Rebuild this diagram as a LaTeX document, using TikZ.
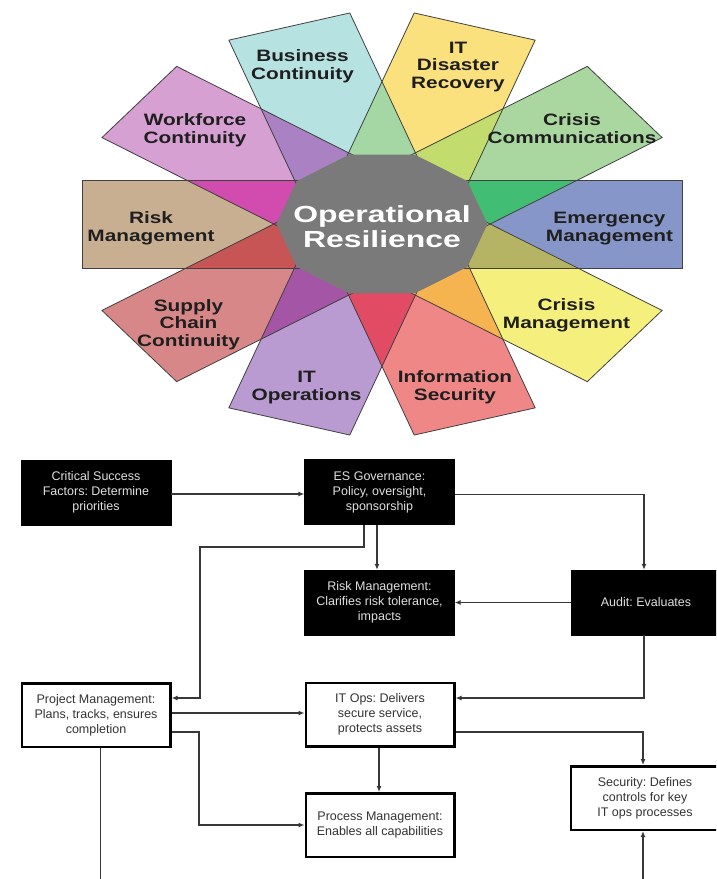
\documentclass[tikz,border=0pt]{standalone}
\usepackage{fontspec}
\setmainfont{Liberation Sans}
\newfontfamily\petalfont[FakeStretch=1.26]{Liberation Sans}
\newfontfamily\centerfont[FakeStretch=1.37]{Liberation Sans}
\usetikzlibrary{arrows.meta,calc}
\frenchspacing
\definecolor{cBC}{HTML}{B7E2E2}
\definecolor{cDR}{HTML}{FAE17D}
\definecolor{cCC}{HTML}{AAD7A0}
\definecolor{cEM}{HTML}{8796C8}
\definecolor{cCM}{HTML}{F5F07D}
\definecolor{cIS}{HTML}{F08787}
\definecolor{cIO}{HTML}{B99BD2}
\definecolor{cSC}{HTML}{D78787}
\definecolor{cRM}{HTML}{C8AF91}
\definecolor{cWF}{HTML}{D7A0D2}
\definecolor{oA}{HTML}{41BE73}
\definecolor{oB}{HTML}{C3DC6E}
\definecolor{oC}{HTML}{A5D7A5}
\definecolor{oD}{HTML}{AA82C3}
\definecolor{oE}{HTML}{D24BAF}
\definecolor{oF}{HTML}{C85555}
\definecolor{oG}{HTML}{A555A5}
\definecolor{oH}{HTML}{E14B64}
\definecolor{oI}{HTML}{F5B450}
\definecolor{oJ}{HTML}{B4B464}
\definecolor{decagray}{HTML}{7A7A7A}
\begin{document}
\begin{tikzpicture}[x=1pt,y=1pt,
  petal/.style={draw=black!75, line width=0.8pt},
  plabel/.style={font=\frenchspacing\petalfont\bfseries\fontsize{16.5}{17.5}\selectfont, text=black!88,
     align=center, inner sep=0pt, text height=12pt, text depth=3.5pt},
  clabel/.style={font=\centerfont\bfseries\fontsize{23.3}{25}\selectfont, text=white,
     align=center, inner sep=0pt, text height=17pt, text depth=0pt},
  blackbox/.style={fill=black, draw=black, minimum width=150pt, minimum height=65pt,
     inner sep=0pt, text=black!12, align=center, font=\frenchspacing\fontsize{12.5}{15}\selectfont},
  whitebox/.style={fill=white, draw=black, line width=2.5pt, minimum width=148.5pt,
     minimum height=63.5pt, inner sep=0pt, text=black!80, align=center,
     font=\frenchspacing\fontsize{12.5}{15}\selectfont},
  conn/.style={draw=black!78, line width=1.3pt},
  arr/.style={conn, -{Latex[length=6pt,width=5pt]}},
]
\useasboundingbox (0,0) rectangle (716,-879);
\fill[white] (0,0) rectangle (716,-879);
\clip (0,0) rectangle (716,-879);

% ---------- flower ----------
\begin{scope}[shift={(382,-224)}, xscale=1.445]
  \foreach \a/\c in {0/cEM,36/cCC,72/cDR,108/cBC,144/cWF,180/cRM,216/cSC,252/cIO,288/cIS,324/cCM}
    \fill[\c, rotate=\a] (0,-44) rectangle (207.6,44);
  \foreach \a/\c in {0/oA,36/oB,72/oC,108/oD,144/oE,180/oF,216/oG,252/oH,288/oI,324/oJ}{
    \begin{scope}
      \clip[rotate=\a] (0,-44) rectangle (207.6,44);
      \fill[\c, rotate=\a+36] (0,-44) rectangle (207.6,44);
    \end{scope}}
  \foreach \a in {0,36,...,324}
    \draw[petal, rotate=\a] (0,-44) rectangle (207.6,44);
  \fill[decagray] (0:73) -- (36:73) -- (72:73) -- (108:73) -- (144:73) -- (180:73)
     -- (216:73) -- (252:73) -- (288:73) -- (324:73) -- cycle;
\end{scope}

% (multi-line nodes: the last line's baseline sits 4.25pt below the node centre)
\node[clabel] (center) at (382,-238.5) {Operational\\Resilience};
\node[plabel] (lbc) at (302.5,-75) {Business\\Continuity};
\node[plabel] (lwf) at (195,-139.2) {Workforce\\Continuity};
\node[plabel] (ldr) at (458,-84) {IT\\Disaster\\Recovery};
\node[plabel] (lcc) at (572,-139) {Crisis\\Communications};
\node[plabel] (lem) at (609.5,-236.8) {Emergency\\Management};
\node[plabel] (lrm) at (151,-236.8) {Risk\\Management};
\node[plabel] (lcm) at (566.5,-324.2) {Crisis\\Management};
\node[plabel] (lis) at (455,-396.2) {Information\\Security};
\node[plabel] (lio) at (306.5,-396.2) {IT\\Operations};
\node[plabel] (lsc) at (188.5,-341.8) {Supply\\Chain\\Continuity};

% ---------- flowchart ----------
\node[blackbox] (csf) at (96,-492.5) {Critical Success\\Factors: Determine\\priorities};
\node[blackbox] (esg) at (379.5,-492) {ES Governance:\\Policy, oversight,\\sponsorship};
\node[blackbox] (risk) at (379.5,-602.5) {Risk Management:\\Clarifies risk tolerance,\\impacts};
\node[blackbox] (audit) at (646,-602.5) {Audit: Evaluates};
\node[whitebox] (pm) at (96,-715) {Project Management:\\Plans, tracks, ensures\\completion};
\node[whitebox] (itops) at (380,-714.5) {IT Ops: Delivers\\secure service,\\protects assets};
\node[whitebox] (proc) at (380,-825) {Process Management:\\Enables all capabilities};
\node[whitebox] (sec) at (645,-798) {Security: Defines\\controls for key\\IT ops processes};

\coordinate (k1) at (200,-547);
\coordinate (k2) at (199,-825);
\coordinate (pmend) at (100.5,-880);
\coordinate (secstart) at (643,-880);

\draw[arr] ([yshift=-1.5pt]csf.east) -- ([yshift=-2pt]esg.west);
\draw[arr] ([yshift=-2.5pt]esg.east) -| ([xshift=-2pt]audit.north);
\draw[arr] ([xshift=-2.5pt]esg.south) -- ([xshift=-2.5pt]risk.north);
\draw[arr] ([xshift=-15.5pt]esg.south) |- (k1) |- ([yshift=17pt]pm.east);
\draw[arr] (audit.west) -- (risk.east);
\draw[arr] ([xshift=-2pt]audit.south) |- ([yshift=16.5pt]itops.east);
\draw[arr] ([yshift=2pt]pm.east) -- ([yshift=1.5pt]itops.west);
\draw[arr] ([yshift=-17pt]pm.east) -| (k2) -- (proc.west);
\draw[arr] ([xshift=-1pt]itops.south) -- ([xshift=-1pt]proc.north);
\draw[arr] ([yshift=-17.5pt]itops.east) -| ([xshift=-2pt]sec.north);
\draw[conn] ([xshift=4.5pt]pm.south) -- (pmend);
\draw[arr] (secstart) -- ([xshift=-2pt]sec.south);
\end{tikzpicture}
\end{document}
